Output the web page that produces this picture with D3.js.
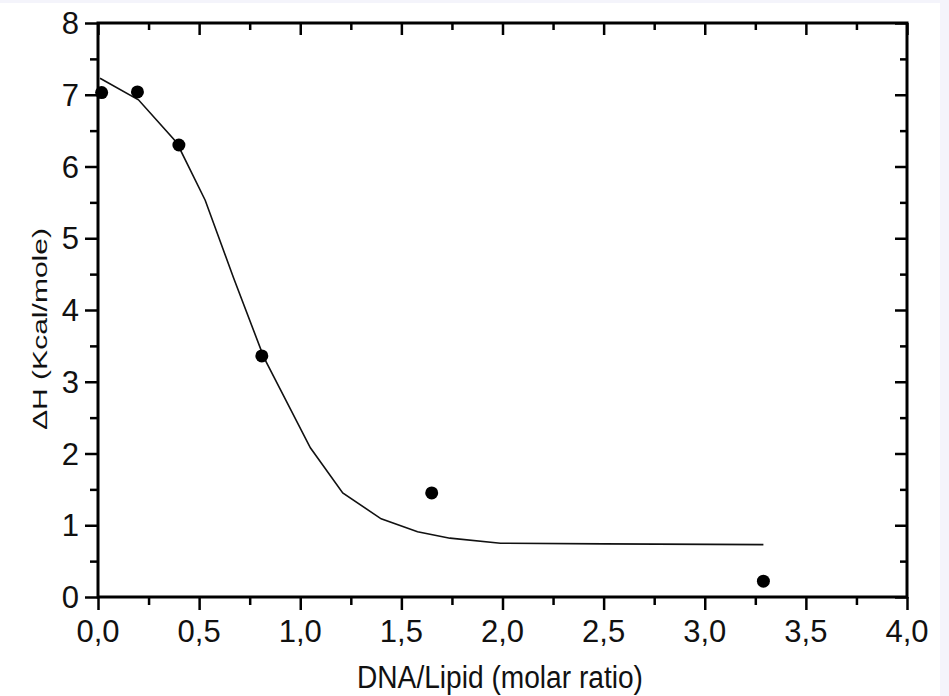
<!DOCTYPE html>
<html>
<head>
<meta charset="utf-8">
<script src="https://cdn.jsdelivr.net/npm/d3@7"></script>
<style>
  body { margin: 0; background: #f4f4fb; }
  svg { display: block; }
</style>
</head>
<body>
<svg id="chart" width="949" height="696"></svg>
<script>
// measured points
const ratio = [0.018, 0.195, 0.40, 0.81, 1.65, 3.29];
const deltaH = [7.03, 7.04, 6.30, 3.36, 1.45, 0.22];

// fitted curve
const fitX = [0.01, 0.2, 0.39, 0.53, 0.67, 0.82, 1.05, 1.21, 1.40, 1.58, 1.74, 1.99, 2.5, 3.29];
const fitY = [7.23, 6.93, 6.33, 5.53, 4.45, 3.34, 2.08, 1.45, 1.09, 0.91, 0.82, 0.75, 0.74, 0.73];

const xMajor = [0, 0.5, 1, 1.5, 2, 2.5, 3, 3.5, 4];
const xMinor = [0.25, 0.75, 1.25, 1.75, 2.25, 2.75, 3.25, 3.75];
const yMajor = [0, 1, 2, 3, 4, 5, 6, 7, 8];
const yMinor = [0.5, 1.5, 2.5, 3.5, 4.5, 5.5, 6.5, 7.5];

const xTitle = 'DNA/Lipid (molar ratio)';
const yTitle = '\u0394H (Kcal/mole)';

let svg = d3.select('#chart');

svg.append('rect')
   .attr('x', 0).attr('y', 3)
   .attr('width', 940).attr('height', 693)
   .attr('fill', '#fff');

const plotL = 98, plotR = 907, plotT = 23, plotB = 597;

let x = d3.scaleLinear().domain([0, 4]).range([plotL, plotR]);
let y = d3.scaleLinear().domain([0, 8]).range([plotB, plotT]);

const fmt = d => d3.format('.1f')(d).replace('.', ',');

// ticks: outward on left/bottom, inward on top/right
const drawTicks = (axis, values, size, g) => {
  g.call(axis.tickValues(values).tickSize(size).tickFormat(''));
  g.select('.domain').remove();
  g.selectAll('line').attr('stroke', '#000').attr('stroke-width', 2.5);
};

let bottomG = svg.append('g').attr('transform', 'translate(0,' + plotB + ')');
drawTicks(d3.axisBottom(x), xMajor, 13, bottomG.append('g'));
drawTicks(d3.axisBottom(x), xMinor, 8, bottomG.append('g'));

let topG = svg.append('g').attr('transform', 'translate(0,' + plotT + ')');
drawTicks(d3.axisBottom(x), xMajor, 12, topG.append('g'));
drawTicks(d3.axisBottom(x), xMinor, 7, topG.append('g'));

let leftG = svg.append('g').attr('transform', 'translate(' + plotL + ',0)');
drawTicks(d3.axisLeft(y), yMajor, 13, leftG.append('g'));
drawTicks(d3.axisLeft(y), yMinor, 8, leftG.append('g'));

let rightG = svg.append('g').attr('transform', 'translate(' + plotR + ',0)');
drawTicks(d3.axisLeft(y), yMajor, 12, rightG.append('g'));
drawTicks(d3.axisLeft(y), yMinor, 7, rightG.append('g'));

// frame
svg.append('rect')
   .attr('x', plotL).attr('y', plotT)
   .attr('width', plotR - plotL).attr('height', plotB - plotT)
   .attr('fill', 'none')
   .attr('stroke', '#000')
   .attr('stroke-width', 3);

// tick labels
svg.selectAll('.xlab')
   .data(xMajor)
   .enter()
   .append('text')
   .attr('class', 'xlab')
   .attr('x', d => x(d))
   .attr('y', 642)
   .attr('text-anchor', 'middle')
   .style('font-family', 'Liberation Sans, Arial, sans-serif')
   .style('font-size', '31px')
   .attr('fill', '#111')
   .text(fmt);

svg.selectAll('.ylab')
   .data(yMajor)
   .enter()
   .append('text')
   .attr('class', 'ylab')
   .attr('x', 79)
   .attr('y', d => y(d) + 11)
   .attr('text-anchor', 'end')
   .style('font-family', 'Liberation Sans, Arial, sans-serif')
   .style('font-size', '31px')
   .attr('fill', '#111')
   .text(d => d);

// axis titles
svg.append('text')
   .attr('x', 500)
   .attr('y', 688)
   .attr('text-anchor', 'middle')
   .attr('textLength', 286)
   .attr('lengthAdjust', 'spacingAndGlyphs')
   .style('font-family', 'Liberation Sans, Arial, sans-serif')
   .style('font-size', '31px')
   .attr('fill', '#111')
   .text(xTitle);

// y title is squashed across its width in the original
svg.append('text')
   .attr('transform', 'translate(47,329) rotate(-90) scale(1,0.72)')
   .attr('text-anchor', 'middle')
   .attr('textLength', 202)
   .attr('lengthAdjust', 'spacingAndGlyphs')
   .style('font-family', 'Liberation Sans, Arial, sans-serif')
   .style('font-size', '29px')
   .attr('fill', '#111')
   .text(yTitle);

// fit line
let line = d3.line()
  .x((d, i) => x(fitX[i]))
  .y(d => y(d));

svg.append('path')
   .datum(fitY)
   .attr('d', line)
   .attr('fill', 'none')
   .attr('stroke', '#111')
   .attr('stroke-width', 1.6);

// points
svg.selectAll('.dot')
   .data(ratio)
   .enter()
   .append('circle')
   .attr('class', 'dot')
   .attr('cx', d => x(d))
   .attr('cy', (d, i) => y(deltaH[i]))
   .attr('r', 6.5)
   .attr('fill', '#000');
</script>
</body>
</html>
